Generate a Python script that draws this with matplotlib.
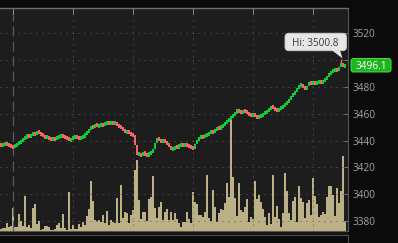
import numpy as np
import matplotlib.pyplot as plt
from matplotlib.patches import FancyBboxPatch, Polygon, Rectangle
from matplotlib.lines import Line2D
from matplotlib.transforms import IdentityTransform


# Data ##################################################################
# closing price of each bar (open = previous close)
first_open = 3437.0
closes = [
    3436.5, 3437.2, 3437.8, 3437.0, 3436.2, 3435.6, 3435.0, 3436.4, 3437.5, 3438.6,
    3439.4, 3441.0, 3442.6, 3443.5, 3443.0, 3444.4, 3445.6, 3444.8, 3446.9, 3445.5,
    3444.6, 3443.5, 3442.2, 3442.9, 3441.6, 3441.0, 3441.8, 3441.2, 3442.4, 3443.3,
    3444.0, 3443.2, 3442.6, 3441.5, 3440.2, 3441.4, 3442.5, 3442.9, 3442.0, 3441.6,
    3442.4, 3443.0, 3444.6, 3446.3, 3447.8, 3450.6, 3449.8, 3451.9, 3450.8, 3451.6,
    3452.2, 3451.4, 3452.8, 3453.6, 3452.9, 3453.4, 3452.6, 3453.0, 3451.8, 3450.6,
    3449.4, 3447.8, 3446.2, 3446.8, 3445.4, 3444.6, 3443.8, 3437.0, 3429.5, 3430.6,
    3428.4, 3431.0, 3429.8, 3428.9, 3430.4, 3431.2, 3433.6, 3438.0, 3441.6, 3440.4,
    3439.2, 3440.1, 3438.8, 3437.6, 3435.4, 3433.2, 3434.0, 3435.6, 3434.9, 3436.3,
    3437.0, 3436.2, 3437.4, 3436.5, 3435.6, 3434.8, 3433.9, 3437.6, 3440.8, 3442.2,
    3443.0, 3442.4, 3444.0, 3444.8, 3445.6, 3446.9, 3446.2, 3448.0, 3449.6, 3448.9,
    3450.6, 3451.8, 3453.4, 3454.6, 3456.2, 3457.8, 3458.6, 3460.4, 3462.9, 3461.6,
    3461.0, 3462.0, 3461.4, 3460.6, 3459.4, 3458.8, 3459.6, 3458.0, 3457.2, 3457.9,
    3458.8, 3459.6, 3460.9, 3462.0, 3463.4, 3465.4, 3464.2, 3463.0, 3462.4, 3463.6,
    3464.8, 3465.6, 3467.4, 3469.0, 3470.6, 3472.4, 3474.8, 3476.2, 3479.0, 3480.4,
    3481.8, 3479.6, 3478.2, 3480.6, 3483.0, 3482.2, 3483.8, 3482.6, 3483.2, 3484.0,
    3483.0, 3484.4, 3485.6, 3487.8, 3489.6, 3491.4, 3492.0, 3493.2, 3492.5, 3494.6,
    3497.5, 3495.2, 3496.1,
]
volumes = [
    2, 3, 3, 8, 4, 5, 23, 4, 4, 17,
    10, 5, 35, 4, 6, 3, 23, 27, 7, 10,
    1, 2, 5, 5, 4, 1, 1, 2, 6, 8,
    3, 17, 3, 1, 39, 2, 6, 2, 2, 7,
    4, 9, 6, 15, 22, 50, 30, 11, 10, 11,
    9, 16, 8, 20, 6, 11, 9, 8, 33, 8,
    46, 13, 19, 18, 8, 16, 21, 61, 71, 31,
    12, 19, 19, 10, 32, 34, 55, 23, 13, 24,
    29, 11, 19, 22, 11, 19, 11, 18, 12, 8,
    4, 9, 9, 19, 12, 8, 39, 29, 27, 16,
    16, 14, 19, 56, 13, 10, 41, 24, 9, 18,
    22, 21, 28, 48, 34, 115, 54, 33, 15, 48,
    21, 19, 24, 32, 9, 14, 12, 50, 32, 36,
    29, 22, 14, 6, 18, 7, 56, 14, 25, 12,
    4, 18, 58, 40, 18, 11, 30, 34, 9, 45,
    33, 29, 13, 28, 31, 16, 53, 35, 27, 14,
    16, 19, 17, 34, 45, 45, 36, 15, 43, 28,
    40, 75, 10,
]
hi_price = 3500.8
last_price = 3496.1
price_ticks = [3380, 3400, 3420, 3440, 3460, 3480, 3500, 3520]
grid_idx = [6, 36, 66, 96, 126, 156]
session_idx = 6

# colours
BG = '#1d1d1d'
UP = '#17c93a'
DOWN = '#f26666'
VOL = '#bcb086'
GRID = '#5e5e5e'

plt.rcParams['font.family'] = 'Open Sans'

closes = np.array(closes)
opens = np.concatenate([[first_open], closes[:-1]])
idx = np.arange(len(closes))

fig = plt.figure(figsize=(3.98, 2.43), dpi=100)
fig.patch.set_facecolor('#0b0b0b')
rect = [0, 12 / 243, 348 / 398, 223 / 243]

# volume axes (underneath) ++++++++++++++++++++++++++++++++++++++++++++++
axv = fig.add_axes(rect)
axv.set_facecolor(BG)
axv.bar(idx, volumes, width=0.8, color=VOL, linewidth=0)
axv.set_xlim(-0.5, len(closes) + 0.5)
axv.set_ylim(0, 223)
axv.set_xticks([])
axv.set_yticks([])
for s in axv.spines.values():
    s.set_visible(False)

# price axes (on top) ++++++++++++++++++++++++++++++++++++++++++++++++++
ax = fig.add_axes(rect)
ax.patch.set_visible(False)
ax.set_xlim(-0.5, len(closes) + 0.5)
ax.set_ylim(3372.7, 3538.7)

ax.hlines(price_ticks, -0.5, len(closes) + 0.5, colors=GRID, linestyles=(0, (1, 5)), lw=0.72, zorder=0)
dotted = [g for g in grid_idx if g != session_idx]
ax.vlines(dotted, 3372.7, 3538.7, colors=GRID, linestyles=(0, (1, 5)), lw=0.72, zorder=0)
ax.vlines(session_idx, 3372.7, 3538.7, colors='#5a5a5a', linestyles=(0, (8, 4)), lw=0.9, zorder=0)

# candles - small moves get a minimum body so they stay visible
diff = closes - opens
up = diff >= 0
mid = (closes + opens) / 2
half = np.maximum(np.abs(diff), 3.0) / 2
ax.bar(idx, 2 * half, bottom=mid - half, width=1.0, color=np.where(up, UP, DOWN),
       linewidth=0, zorder=3)

# high of the session wick
hi_idx = int(np.argmax(closes))
ax.vlines(hi_idx, closes[hi_idx], hi_price, color=DOWN, lw=1, zorder=3)

# axes decoration
ax.set_xticks(grid_idx)
ax.xaxis.set_ticks_position('top')
ax.tick_params(axis='x', direction='in', length=4.3, width=0.72, color='#8a8a8a',
               labeltop=False, labelbottom=False)
ax.yaxis.tick_right()
ax.set_yticks(price_ticks)
ax.set_yticklabels(['' if p == 3500 else str(p) for p in price_ticks])
ax.tick_params(axis='y', direction='in', length=3, width=0.72, color='#777777',
               labelcolor='#a5a5a5', labelsize=7.2, pad=2.9)
ax.spines['left'].set_visible(False)
ax.spines['top'].set_color('#6e6e6e')
ax.spines['top'].set_linewidth(1.0)
ax.spines['right'].set_color('#555555')
ax.spines['right'].set_linewidth(0.8)
ax.spines['bottom'].set_color('#555555')
ax.spines['bottom'].set_linewidth(0.8)

# bottom strip below the chart
fig.add_artist(Rectangle((0, 8), 348, 3.2, transform=IdentityTransform(), fc='#151515', ec='none'))
fig.add_artist(Line2D([0, 348], [7.8, 7.8], transform=IdentityTransform(), color='#4a4a4a', lw=0.8))
fig.add_artist(Line2D([348, 348], [0, 7.8], transform=IdentityTransform(), color='#4a4a4a', lw=0.8))

# last price tag
_, ly = ax.transData.transform((0, last_price))
fig.add_artist(FancyBboxPatch((351, ly - 6.7), 40, 13.4, boxstyle='round,pad=0,rounding_size=2.5',
                              transform=IdentityTransform(), fc='#1eb41e', ec='#44d844', lw=0.8))
fig.text(371, ly - 3.6, f'{last_price:.1f}', transform=IdentityTransform(),
         ha='center', va='baseline', color='white', fontsize=7.2)

# Hi callout
hx, hy = ax.transData.transform((hi_idx, hi_price))
fig.add_artist(FancyBboxPatch((hx - 56, hy + 8.2), 61.5, 17.5, boxstyle='round,pad=0,rounding_size=4',
                              transform=IdentityTransform(), fc='#e6e6e6', ec='#cfcfcf', lw=0.6))
fig.add_artist(Polygon([(hx - 9, hy + 8.6), (hx - 1, hy + 8.6), (hx + 1.5, hy + 0.5)], closed=True,
                       transform=IdentityTransform(), fc='#e6e6e6', ec='none'))
fig.text(hx - 25.3, hy + 13.4, f'Hi: {hi_price:.1f}', transform=IdentityTransform(),
         ha='center', va='baseline', color='#3a3a3a', fontsize=7.2)

plt.savefig('out.png', dpi=100, facecolor=fig.get_facecolor())
